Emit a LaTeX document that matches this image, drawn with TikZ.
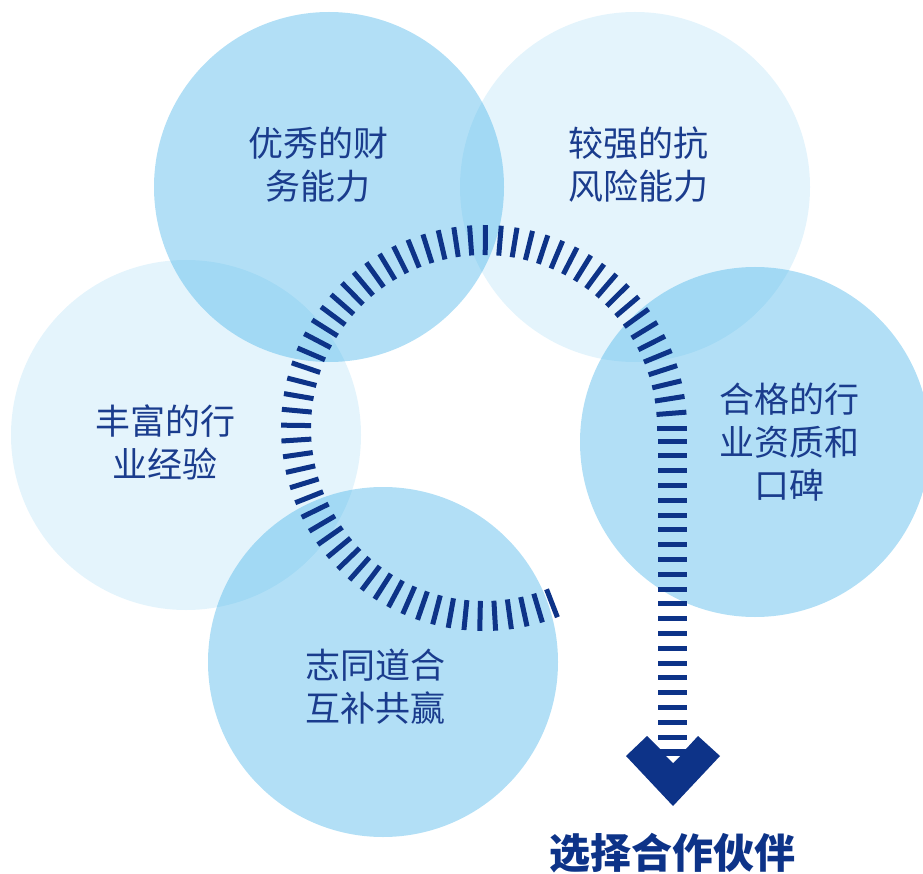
\documentclass[tikz,border=0pt]{standalone}
\usepackage{fontspec}
\setmainfont{Noto Sans CJK SC}
\definecolor{deepblue}{HTML}{0D3388}
\definecolor{inkblue}{HTML}{1A3C8D}
\definecolor{skyblue}{HTML}{3FB0E8}

\begin{document}
\begin{tikzpicture}[x=1pt,y=-1pt,
  strong/.style={circle,fill=skyblue,fill opacity=.4,minimum size=350pt,inner sep=0pt},
  faint/.style={circle,fill=skyblue,fill opacity=.14,minimum size=350pt,inner sep=0pt},
  circletext/.style={text=inkblue,font=\fontsize{35}{43}\selectfont,align=center},
  tick/.style={line width=5pt,deepblue}]
\useasboundingbox (0,0) rectangle (923,874);

% the five circles
\node [strong] (c1) at (329,187) {};
\node [faint] (c2) at (635,187) {};
\node [faint] (c3) at (186,435) {};
\node [strong] (c4) at (755,442) {};
\node [strong] (c5) at (383,662) {};

\node [circletext] (finance) at (318,165) {优秀的财\\务能力};
\node [circletext] (risk) at (638,165) {较强的抗\\风险能力};
\node [circletext] (experience) at (165,442) {丰富的行\\业经验};
\node [circletext] (credential) at (789,442) {合格的行\\业资质和\\口碑};
\node [circletext] (winwin) at (375,687) {志同道合\\互补共赢};

% dashed arc and stem
\coordinate (hub) at (484,428);
\coordinate (stem) at (672.5,737);
\foreach \k in {0,...,65}
  \draw [tick] (hub) ++({360-4.48*\k}:173) -- ++({360-4.48*\k}:30);
\foreach \k in {0,...,20}
  \draw [tick] (stem) ++(-14.5,{-14.8*\k}) -- ++(29,0);

% arrow head
\fill [deepblue] (626,756) -- (647,736) -- (660,749) -- (686,749) -- (698,736) -- (720,756) -- (673,806) -- cycle;
\fill [white] (666,756) -- (680,756) -- (673,763) -- cycle;

\node [text=deepblue,font=\fontsize{41}{41}\selectfont\bfseries] (partner) at (672,853) {选择合作伙伴};
\end{tikzpicture}
\end{document}
